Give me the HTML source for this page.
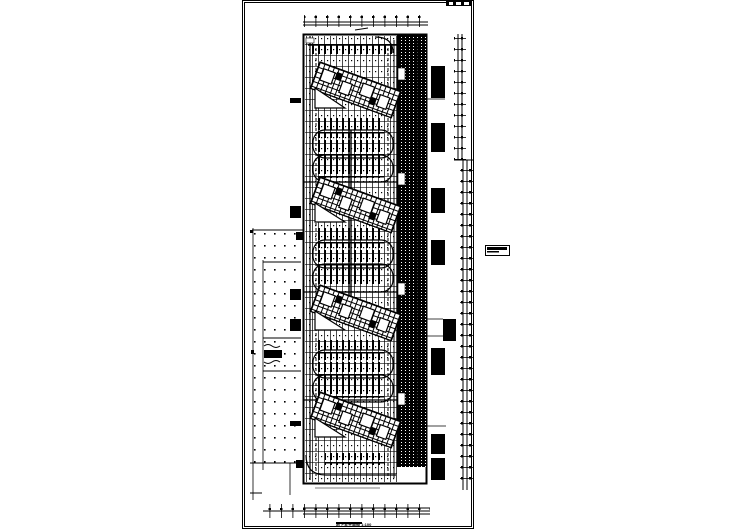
<!DOCTYPE html>
<html><head><meta charset="utf-8"><style>
html,body{margin:0;padding:0;background:#fff;}
svg{display:block;font-family:"Liberation Sans",sans-serif;}
</style></head><body>
<svg width="749" height="530" viewBox="0 0 749 530" xmlns="http://www.w3.org/2000/svg">
<defs>
<pattern id="dark" width="4" height="3" patternUnits="userSpaceOnUse">
<rect width="4" height="3" fill="#000"/><rect x="1" y="1" width="1" height="1" fill="#fff"/>
</pattern>
<pattern id="stall" width="6" height="22" patternUnits="userSpaceOnUse">
<rect x="0" y="0" width="2" height="20" fill="#000"/><rect x="0" y="0" width="6" height="1.5" fill="#000"/>
</pattern>
<pattern id="park" width="6" height="11" patternUnits="userSpaceOnUse">
<rect x="0" y="0" width="0.7" height="11" fill="#000"/><rect x="0" y="0" width="6" height="0.6" fill="#000"/><rect x="3" y="5" width="1.2" height="1.2" fill="#000"/>
</pattern>
<pattern id="dots" width="10" height="12" patternUnits="userSpaceOnUse">
<rect x="4" y="5" width="1.6" height="1.6" fill="#000"/>
</pattern>
<pattern id="rdim" width="8" height="11" patternUnits="userSpaceOnUse">
<rect x="0" y="5" width="8" height="0.8" fill="#000"/><rect x="5" y="4" width="2" height="2.5" fill="#000"/>
</pattern>
<pattern id="hdim" width="11.5" height="12" patternUnits="userSpaceOnUse">
<rect x="5" y="0" width="0.8" height="12" fill="#000"/><rect x="4" y="4" width="2.5" height="2" fill="#000"/>
</pattern>
<pattern id="blk" width="5" height="5" patternUnits="userSpaceOnUse">
<rect width="5" height="1" fill="#000"/><rect width="1" height="5" fill="#000"/>
</pattern>
</defs>
<rect width="749" height="530" fill="#fff"/>
<!-- frame -->
<rect x="242.5" y="0.5" width="231" height="528" fill="none" stroke="#000"/>
<rect x="244.5" y="2.5" width="227" height="524" fill="none" stroke="#000"/>
<rect x="446" y="1" width="26" height="5" fill="#000"/>
<rect x="449" y="2" width="4" height="3" fill="#fff"/><rect x="456" y="2" width="5" height="3" fill="#fff"/><rect x="464" y="2" width="5" height="3" fill="#fff"/>
<!-- side box -->
<rect x="485.5" y="245.5" width="24" height="10" fill="none" stroke="#000"/>
<rect x="487" y="247" width="20" height="3" fill="#000"/><rect x="487" y="251" width="12" height="1.5" fill="#000"/>
<!-- top dimension -->
<rect x="304" y="15" width="124" height="12" fill="url(#hdim)"/>
<line x1="303" y1="22" x2="428" y2="22" stroke="#000"/>
<line x1="303" y1="25" x2="428" y2="25" stroke="#000"/>
<line x1="355" y1="30" x2="368" y2="28" stroke="#000"/>
<!-- bottom dimension -->
<rect x="263" y="504" width="167" height="14" fill="url(#hdim)"/>
<line x1="263" y1="511" x2="430" y2="511" stroke="#000"/>
<line x1="303" y1="508" x2="430" y2="508" stroke="#000"/>
<line x1="303" y1="514" x2="430" y2="514" stroke="#000"/>
<text x="336" y="526" font-size="4" font-weight="bold">地下室平面图 1:100</text>
<rect x="336" y="522" width="26" height="2" fill="#000"/>
<!-- right dimension -->
<rect x="454" y="34" width="12" height="126" fill="url(#rdim)"/>
<line x1="458" y1="34" x2="458" y2="160" stroke="#000"/><line x1="462" y1="34" x2="462" y2="160" stroke="#000"/>
<rect x="460" y="160" width="13" height="328" fill="url(#rdim)"/>
<line x1="463" y1="160" x2="463" y2="490" stroke="#000"/><line x1="467" y1="160" x2="467" y2="490" stroke="#000"/>
<line x1="454" y1="160" x2="473" y2="160" stroke="#000"/>
<!-- left annex -->
<rect x="253" y="230" width="50" height="240" fill="url(#dots)"/>
<line x1="252" y1="230" x2="303" y2="230" stroke="#000"/>
<line x1="253" y1="228" x2="253" y2="500" stroke="#000" stroke-width="0.8"/>
<line x1="263" y1="260" x2="263" y2="470" stroke="#000" stroke-width="0.8"/>
<line x1="263" y1="262" x2="301" y2="262" stroke="#000"/>
<line x1="263" y1="338" x2="301" y2="338" stroke="#000"/>
<line x1="263" y1="371" x2="301" y2="371" stroke="#000"/>
<rect x="264" y="350" width="18" height="8" fill="#000"/>
<path d="M264 346 q4 -3 8 0 t8 0 M264 362 q4 3 8 0 t8 0" stroke="#000" fill="none"/>
<line x1="250" y1="463" x2="303" y2="463" stroke="#000"/>
<line x1="250" y1="493" x2="262" y2="493" stroke="#000"/>
<line x1="290" y1="463" x2="290" y2="495" stroke="#000" stroke-width="0.8"/>
<rect x="296" y="232" width="7" height="8" fill="#000"/>
<rect x="296" y="460" width="7" height="8" fill="#000"/>
<rect x="250" y="230" width="3" height="3" fill="#000"/><rect x="251" y="350" width="3" height="4" fill="#000"/>
<!-- left black blocks -->
<rect x="290" y="98" width="11" height="5" fill="#000"/>
<rect x="290" y="206" width="11" height="12" fill="#000"/>
<rect x="290" y="289" width="11" height="11" fill="#000"/>
<rect x="290" y="319" width="11" height="12" fill="#000"/>
<rect x="290" y="421" width="11" height="5" fill="#000"/>
<!-- main building -->
<rect x="305" y="36" width="92" height="446" fill="url(#park)"/>
<rect x="303.5" y="34.5" width="123" height="449" fill="none" stroke="#000" stroke-width="2"/>
<rect x="397" y="35" width="29" height="432" fill="url(#dark)"/>
<rect x="397" y="35" width="3" height="432" fill="#000"/>
<rect x="414" y="40" width="5" height="425" fill="#000" opacity="0.7"/>
<rect x="398" y="68" width="7" height="12" fill="#fff" stroke="#000" stroke-width="0.6"/>
<rect x="398" y="173" width="7" height="12" fill="#fff" stroke="#000" stroke-width="0.6"/>
<rect x="398" y="283" width="7" height="12" fill="#fff" stroke="#000" stroke-width="0.6"/>
<rect x="398" y="393" width="7" height="12" fill="#fff" stroke="#000" stroke-width="0.6"/>
<!-- parking -->
<rect x="308" y="45" width="86" height="9" fill="url(#stall)"/>
<line x1="308" y1="45" x2="397" y2="45" stroke="#000" stroke-width="1.5"/>
<line x1="310" y1="36" x2="310" y2="480" stroke="#000" stroke-width="1.2"/>
<line x1="316" y1="48" x2="316" y2="478" stroke="#000" stroke-width="1" stroke-dasharray="3 2"/>
<line x1="388" y1="48" x2="388" y2="478" stroke="#000" stroke-width="1" stroke-dasharray="3 2"/>
<line x1="394" y1="40" x2="394" y2="478" stroke="#000" stroke-width="1"/>
<g fill="url(#stall)">
<rect x="318" y="118" width="66" height="20"/><rect x="318" y="140" width="66" height="20"/>
<rect x="318" y="158" width="66" height="20"/>
<rect x="318" y="228" width="66" height="20"/><rect x="318" y="250" width="66" height="20"/>
<rect x="318" y="266" width="66" height="20"/>
<rect x="318" y="340" width="66" height="20"/><rect x="318" y="362" width="66" height="20"/>
<rect x="318" y="378" width="66" height="20"/>
<rect x="325" y="453" width="60" height="12"/>
</g>
<g fill="none" stroke="#000" stroke-width="1.2">
<rect x="313" y="130" width="80" height="28" rx="12"/>
<rect x="313" y="155" width="80" height="27" rx="12"/>
<rect x="313" y="240" width="80" height="28" rx="12"/>
<rect x="313" y="264" width="80" height="28" rx="12"/>
<rect x="313" y="350" width="80" height="28" rx="12"/>
<rect x="313" y="375" width="80" height="27" rx="12"/>
<path d="M306 455 q0 20 20 20 h70"/>
<path d="M375 37 q18 0 18 16"/>
</g>
<line x1="303" y1="182" x2="397" y2="182" stroke="#000" stroke-width="1.2"/>
<line x1="303" y1="292" x2="397" y2="292" stroke="#000" stroke-width="1.2"/>
<line x1="303" y1="400" x2="397" y2="400" stroke="#000" stroke-width="1.2"/>
<rect x="306" y="38" width="8" height="5" fill="#fff" stroke="#000" stroke-width="0.6"/>
<line x1="315" y1="488" x2="380" y2="488" stroke="#000" stroke-width="0.6"/>
<rect x="349" y="130" width="3" height="170" fill="#000" opacity="0.7"/>
<!-- tilted buildings -->
<g stroke="#000" stroke-width="1.2">
<g transform="translate(320,62) rotate(20)">
<rect x="0" y="0" width="86" height="28" fill="#fff"/><rect x="0" y="0" width="86" height="28" fill="url(#blk)"/>
<g fill="#fff"><rect x="6" y="5" width="12" height="12"/><rect x="28" y="10" width="10" height="12"/><rect x="48" y="5" width="12" height="12"/><rect x="68" y="10" width="10" height="12"/></g>
<rect x="20" y="4" width="5" height="6" fill="#000"/><rect x="60" y="16" width="5" height="6" fill="#000"/>
</g>
<g transform="translate(320,177) rotate(20)">
<rect x="0" y="0" width="86" height="28" fill="#fff"/><rect x="0" y="0" width="86" height="28" fill="url(#blk)"/>
<g fill="#fff"><rect x="6" y="5" width="12" height="12"/><rect x="28" y="10" width="10" height="12"/><rect x="48" y="5" width="12" height="12"/><rect x="68" y="10" width="10" height="12"/></g>
<rect x="20" y="4" width="5" height="6" fill="#000"/><rect x="60" y="16" width="5" height="6" fill="#000"/>
</g>
<g transform="translate(320,285) rotate(20)">
<rect x="0" y="0" width="86" height="28" fill="#fff"/><rect x="0" y="0" width="86" height="28" fill="url(#blk)"/>
<g fill="#fff"><rect x="6" y="5" width="12" height="12"/><rect x="28" y="10" width="10" height="12"/><rect x="48" y="5" width="12" height="12"/><rect x="68" y="10" width="10" height="12"/></g>
<rect x="20" y="4" width="5" height="6" fill="#000"/><rect x="60" y="16" width="5" height="6" fill="#000"/>
</g>
<g transform="translate(320,392) rotate(20)">
<rect x="0" y="0" width="86" height="28" fill="#fff"/><rect x="0" y="0" width="86" height="28" fill="url(#blk)"/>
<g fill="#fff"><rect x="6" y="5" width="12" height="12"/><rect x="28" y="10" width="10" height="12"/><rect x="48" y="5" width="12" height="12"/><rect x="68" y="10" width="10" height="12"/></g>
<rect x="20" y="4" width="5" height="6" fill="#000"/><rect x="60" y="16" width="5" height="6" fill="#000"/>
</g>
</g>
<g fill="#fff" stroke="#000" stroke-width="1.2">
<path d="M315 88 L315 108 L345 108 Z"/><path d="M315 203 L315 222 L345 222 Z"/>
<path d="M315 311 L315 330 L345 330 Z"/><path d="M315 418 L315 437 L345 437 Z"/>
</g>
<!-- right black blocks -->
<g fill="#000">
<rect x="431" y="66" width="14" height="32"/>
<rect x="431" y="123" width="14" height="29"/>
<rect x="431" y="188" width="14" height="25"/>
<rect x="431" y="240" width="14" height="25"/>
<rect x="443" y="319" width="13" height="22"/>
<rect x="431" y="348" width="14" height="27"/>
<rect x="431" y="434" width="14" height="20"/>
<rect x="431" y="458" width="14" height="22"/>
</g>
<g stroke="#000" stroke-width="0.7">
<line x1="426" y1="99" x2="445" y2="99"/><line x1="426" y1="319" x2="443" y2="319"/>
<line x1="426" y1="336" x2="443" y2="336"/><line x1="426" y1="426" x2="446" y2="426"/>
</g>
</svg>
</body></html>
